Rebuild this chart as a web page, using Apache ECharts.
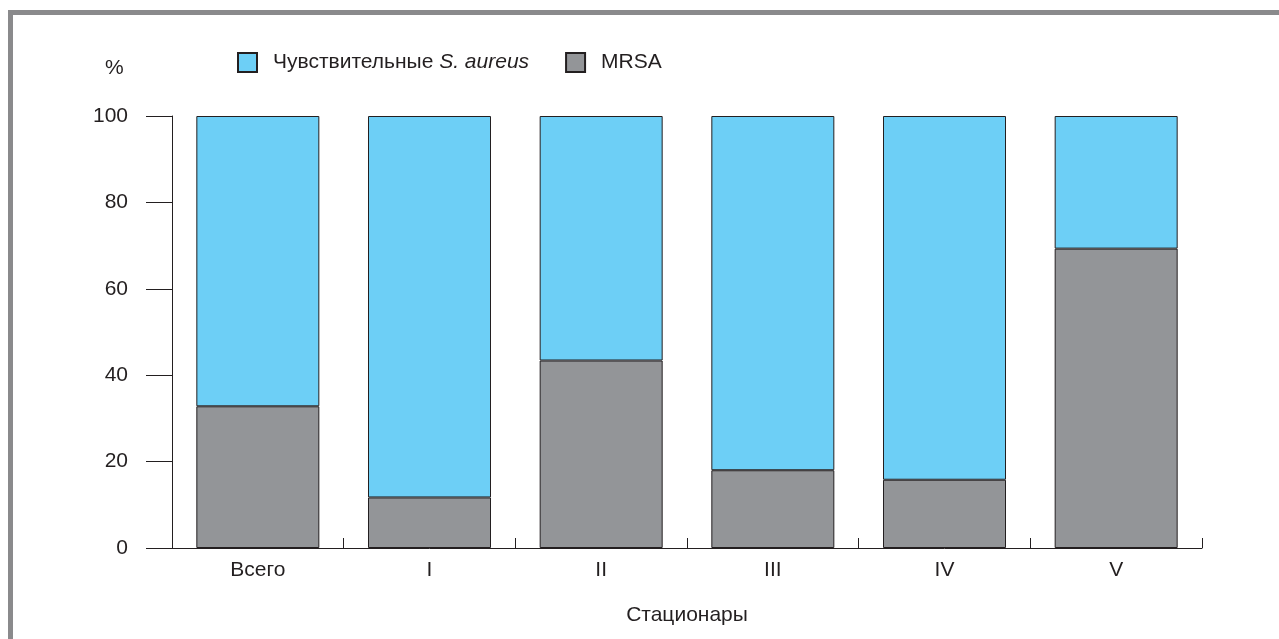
<!DOCTYPE html>
<html>
<head>
<meta charset="utf-8">
<script src="https://cdn.jsdelivr.net/npm/echarts@6/dist/echarts.min.js"></script>
<style>
html,body{margin:0;padding:0;background:#fff;}
#chart{width:1279px;height:639px;}
</style>
</head>
<body>
<div id="chart"></div>
<script>
const categories = ['Всего', 'I', 'II', 'III', 'IV', 'V'];
const mrsaValues = [32.8, 11.7, 43.4, 18.0, 15.8, 69.3];
const sensitiveValues = [67.2, 88.3, 56.6, 82.0, 84.2, 30.7];
const yTicks = [0, 20, 40, 60, 80, 100];

const FONT = '"Liberation Sans", Arial, sans-serif';
const INK = '#231f20';
const FS = 21;

const chart = echarts.init(document.getElementById('chart'), null, {renderer: 'canvas'});
chart.setOption({
  backgroundColor: '#ffffff',
  animation: false,
  textStyle: {fontFamily: FONT, color: INK},
  title: {
    text: '%',
    left: 100,
    top: 53,
    textStyle: {fontFamily: FONT, fontSize: FS, fontWeight: 'normal', color: INK}
  },
  legend: {
    data: ['Чувствительные S. aureus', 'MRSA'],
    left: 237,
    top: 52,
    padding: 0,
    itemWidth: 19,
    itemHeight: 19,
    itemGap: 36,
    icon: 'rect',
    formatter: function (name) {
      if (name === 'MRSA') return '{n|MRSA}';
      return '{n|Чувствительные }{i|S. aureus}';
    },
    textStyle: {
      fontFamily: FONT,
      fontSize: FS,
      color: INK,
      padding: [0, 0, 0, 11],
      rich: {
        n: {fontFamily: FONT, fontSize: FS, color: INK},
        i: {fontFamily: FONT, fontSize: FS, color: INK, fontStyle: 'italic'}
      }
    }
  },
  grid: {left: 172, right: 77, top: 116, bottom: 91, containLabel: false},
  xAxis: {
    type: 'category',
    data: categories,
    boundaryGap: true,
    name: 'Стационары',
    nameLocation: 'middle',
    nameGap: 57,
    nameTextStyle: {fontFamily: FONT, fontSize: FS, color: INK},
    axisLine: {show: true, lineStyle: {color: INK, width: 1}},
    axisTick: {show: true, inside: true, length: 10, alignWithLabel: false, interval: 0, lineStyle: {color: INK, width: 1}},
    axisLabel: {fontFamily: FONT, fontSize: FS, color: INK, margin: 12, interval: 0},
    splitLine: {show: false}
  },
  yAxis: {
    type: 'value',
    min: yTicks[0],
    max: yTicks[yTicks.length - 1],
    interval: yTicks[1] - yTicks[0],
    axisLine: {show: true, lineStyle: {color: INK, width: 1}},
    axisTick: {show: true, inside: false, length: 26, lineStyle: {color: INK, width: 1}},
    axisLabel: {fontFamily: FONT, fontSize: FS, color: INK, margin: 44},
    splitLine: {show: false}
  },
  series: [
    {
      name: 'MRSA',
      type: 'bar',
      stack: 'total',
      data: mrsaValues,
      barWidth: 123,
      itemStyle: {color: '#939598', borderColor: INK, borderWidth: 1}
    },
    {
      name: 'Чувствительные S. aureus',
      type: 'bar',
      stack: 'total',
      data: sensitiveValues,
      barWidth: 123,
      itemStyle: {color: '#6dcff6', borderColor: INK, borderWidth: 1}
    }
  ],
  graphic: [
    {type: 'rect', shape: {x: 8, y: 10, width: 5, height: 629}, style: {fill: '#8a8a8c'}, silent: true},
    {type: 'rect', shape: {x: 8, y: 10, width: 1271, height: 5}, style: {fill: '#8a8a8c'}, silent: true}
  ]
});
</script>
</body>
</html>
